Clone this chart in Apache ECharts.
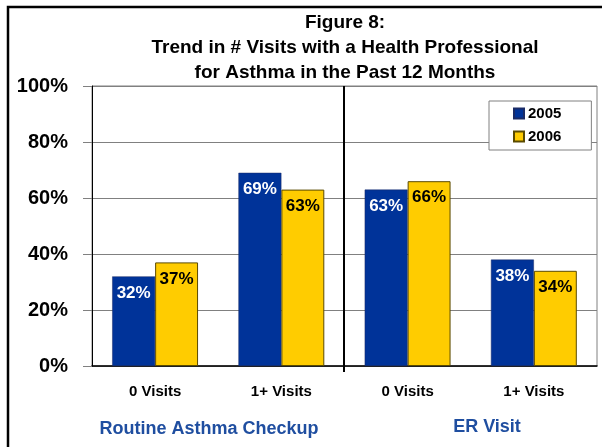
<!DOCTYPE html>
<html>
<head>
<meta charset="utf-8">
<script src="https://cdn.jsdelivr.net/npm/echarts@6/dist/echarts.min.js"></script>
<style>
    html, body { margin: 0; padding: 0; background: #fff; }
    #chart { width: 602px; height: 447px; }
</style>
</head>
<body>
<div id="chart"></div>
<script>
// data
const categories = ['0 Visits', '1+ Visits', '0 Visits', '1+ Visits'];
const groupNames = ['Routine Asthma Checkup', 'ER Visit'];
const years = ['2005', '2006'];
const values2005 = [32, 69, 63, 38];
const values2006 = [37, 63, 66, 34];
const yTicks = [0, 20, 40, 60, 80, 100];

const font = 'Liberation Sans, Arial, sans-serif';
const chart = echarts.init(document.getElementById('chart'));

const option = {
    animation: false,
    textStyle: { fontFamily: font },
    title: {
        text: 'Figure 8:\nTrend in # Visits with a Health Professional\nfor Asthma in the Past 12 Months',
        left: 345,
        top: 10,
        textAlign: 'center',
        padding: 0,
        textStyle: { fontFamily: font, fontSize: 19, fontWeight: 'bold', color: '#000', lineHeight: 25 }
    },
    legend: {
        data: years,
        orient: 'vertical',
        left: 489,
        top: 101,
        padding: [5, 30, 6, 24],
        itemWidth: 10,
        itemHeight: 10,
        itemGap: 8,
        icon: 'rect',
        backgroundColor: '#fff',
        borderColor: '#808080',
        borderWidth: 1,
        borderRadius: 0,
        textStyle: { fontFamily: font, fontSize: 15, fontWeight: 'bold', color: '#000', padding: [0, 0, 0, -1] }
    },
    grid: { left: 92, right: 5, top: 86, bottom: 81, show: true, borderColor: '#808080', borderWidth: 1 },
    xAxis: {
        type: 'category',
        data: categories,
        axisLine: { lineStyle: { color: '#000', width: 1.5 } },
        axisTick: { length: 5, lineStyle: { color: '#000' } },
        axisLabel: { fontFamily: font, fontSize: 15, fontWeight: 'bold', color: '#000', margin: 18 }
    },
    yAxis: {
        type: 'value',
        min: yTicks[0],
        max: yTicks[yTicks.length - 1],
        interval: 20,
        axisLine: { show: true, lineStyle: { color: '#000', width: 1 } },
        axisTick: { show: true, length: 9, lineStyle: { color: '#808080' } },
        splitLine: { lineStyle: { color: '#808080', width: 1 } },
        axisLabel: { fontFamily: font, fontSize: 20, fontWeight: 'bold', color: '#000', margin: 24, formatter: '{value}%' }
    },
    series: [
        {
            name: years[0],
            type: 'bar',
            data: values2005,
            barGap: 0,
            barCategoryGap: '32%',
            itemStyle: { color: '#003399', borderColor: '#1a2b66', borderWidth: 0.5 },
            label: {
                show: true, position: 'insideTop', distance: 8,
                formatter: '{c}%', color: '#fff', fontFamily: font, fontSize: 17, fontWeight: 'bold'
            }
        },
        {
            name: years[1],
            type: 'bar',
            data: values2006,
            barGap: 0,
            barCategoryGap: '32%',
            itemStyle: { color: '#ffcc00', borderColor: '#5a4a00', borderWidth: 1 },
            label: {
                show: true, position: 'insideTop', distance: 8,
                formatter: '{c}%', color: '#000', fontFamily: font, fontSize: 17, fontWeight: 'bold'
            }
        }
    ]
};
chart.setOption(option);

// divider between the two groups, placed via the axis scale
const p1 = chart.convertToPixel({ xAxisIndex: 0 }, 1);
const p2 = chart.convertToPixel({ xAxisIndex: 0 }, 2);
const divX = Math.round((p1 + p2) / 2) - 1;
const plotTop = chart.convertToPixel({ yAxisIndex: 0 }, 100);
const plotBottom = chart.convertToPixel({ yAxisIndex: 0 }, 0);

chart.setOption({
    graphic: [
        {
            type: 'rect', silent: true,
            shape: { x: 8, y: 7, width: 700, height: 500 },
            style: { fill: 'none', stroke: '#000', lineWidth: 2.5 }
        },
        {
            type: 'line', silent: true, z: 10,
            shape: { x1: divX, y1: plotTop, x2: divX, y2: plotBottom + 6 },
            style: { stroke: '#000', lineWidth: 2 }
        },
        {
            type: 'text', silent: true, x: 209, y: 429,
            style: { text: groupNames[0], fill: '#1f4ea0', font: 'bold 18px ' + font, align: 'center', verticalAlign: 'middle' }
        },
        {
            type: 'text', silent: true, x: 487, y: 427,
            style: { text: groupNames[1], fill: '#1f4ea0', font: 'bold 18px ' + font, align: 'center', verticalAlign: 'middle' }
        }
    ]
});
</script>
</body>
</html>
